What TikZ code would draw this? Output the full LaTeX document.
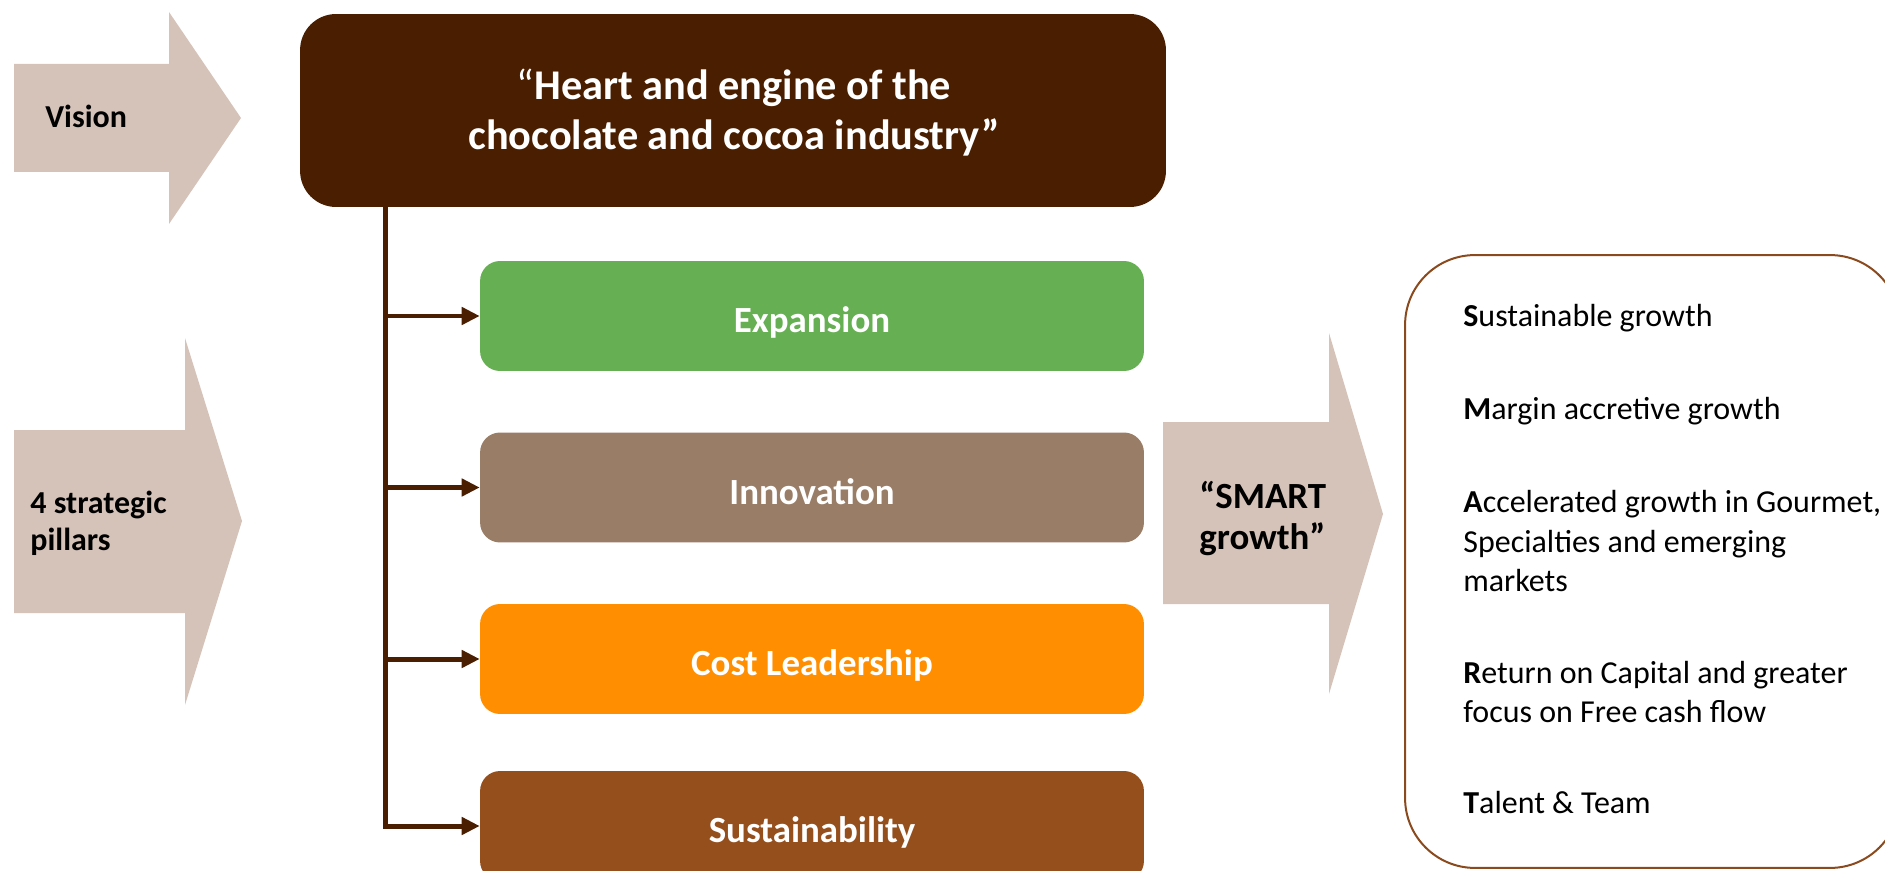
\documentclass[tikz,border=0pt]{standalone}
\usepackage{fontspec}
\setmainfont{Carlito}
\usetikzlibrary{arrows.meta,positioning}
\definecolor{cocoa}{HTML}{4A1E00}
\definecolor{sand}{HTML}{D5C3BA}
\definecolor{leaf}{HTML}{66AF52}
\definecolor{mocha}{HTML}{9A7D67}
\definecolor{amber}{HTML}{FF8F00}
\definecolor{rust}{HTML}{954F1D}
\definecolor{rim}{HTML}{8B4A1E}

\begin{document}
\begin{tikzpicture}[x=0.02cm,y=-0.02cm,>={Triangle[length=3.6mm,width=3.4mm]},
  pillar/.style={fill=#1,rounded corners=0.4cm,minimum width=13.28cm,minimum height=2.2cm,
    text height=19pt,text depth=0pt,text=white,font=\bfseries\fontsize{21}{25}\selectfont},
  sidetext/.style={inner sep=0pt,align=left,font=\bfseries\fontsize{18.2}{21}\selectfont},
  item/.style={inner sep=0pt,align=left,font=\fontsize{18.2}{22.2}\selectfont},
  link/.style={draw=cocoa,line width=0.1cm}]
\clip (0,0) rectangle (1885,871);
% big arrows
\fill[sand] (14,64) -- (169,64) -- (169,12) -- (241,118) -- (169,224) -- (169,172) -- (14,172) -- cycle;
\fill[sand] (14,430) -- (185,430) -- (185,338) -- (242,521) -- (185,705) -- (185,613) -- (14,613) -- cycle;
\fill[sand] (1163,422) -- (1329,422) -- (1329,333) -- (1383,514) -- (1329,694) -- (1329,604) -- (1163,604) -- cycle;
\node[sidetext,anchor=base west] (vision) at (45,128) {Vision};
\node[sidetext,anchor=base west] (pillars) at (30,550) {4 strategic\\pillars};
\node[sidetext,anchor=base west,font=\bfseries\fontsize{21}{22.8}\selectfont] (smartlbl) at (1199,549) {“SMART\\growth”};
% vision box
\node[fill=cocoa,rounded corners=0.72cm,minimum width=17.32cm,minimum height=3.86cm] (head) at (733,110.5) {};
\node[inner sep=0pt,align=center,text=white,font=\bfseries\fontsize{24.1}{29}\selectfont,anchor=base]
  (headtxt) at (734,150) {{\mdseries “}Heart and engine of the\\chocolate and cocoa industry”};
% pillars
\node[pillar=leaf] (expa) at (812,316) {Expansion};
\node[pillar=mocha] (inno) at (812,487.5) {Innovation};
\node[pillar=amber] (cost) at (812,659) {Cost Leadership};
\node[pillar=rust] (sust) at (812,826) {Sustainability};
\coordinate (trunk) at (385,0);
\draw[link,->] (head.south -| trunk) |- (sust.west);
\draw[link,->] (trunk |- expa.west) -- (expa.west);
\draw[link,->] (trunk |- inno.west) -- (inno.west);
\draw[link,->] (trunk |- cost.west) -- (cost.west);
% SMART list
\node[draw=rim,line width=0.04cm,rounded corners=1.4cm,minimum width=9.9cm,minimum height=12.26cm] (smart) at (1652.5,561.5) {};
\node[item,anchor=base west] (s) at (1463,326) {\textbf{S}ustainable growth};
\node[item,anchor=base west] (m) at (1463,419) {\textbf{M}argin accretive growth};
\node[item,anchor=base west] (a) at (1463,591) {\textbf{A}ccelerated growth in Gourmet,\\Specialties and emerging\\markets};
\node[item,anchor=base west] (r) at (1463,722) {\textbf{R}eturn on Capital and greater\\focus on Free cash flow};
\node[item,anchor=base west] (t) at (1463,813) {\textbf{T}alent \& Team};
\end{tikzpicture}
\end{document}
